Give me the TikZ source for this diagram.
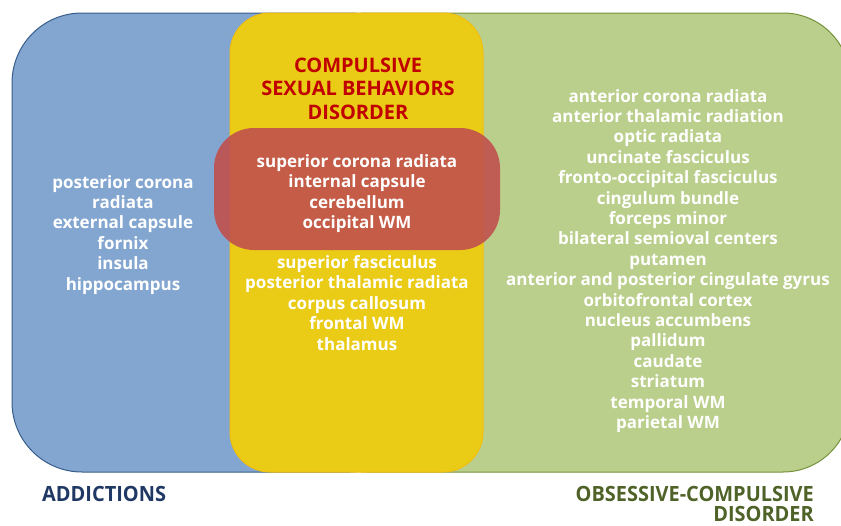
\documentclass[tikz,border=0pt]{standalone}
\usepackage{fontspec}
\setmainfont{Open Sans}
\definecolor{addfill}{RGB}{131,166,208}
\definecolor{adddraw}{RGB}{56,93,138}
\definecolor{ocdfill}{RGB}{187,207,140}
\definecolor{ocddraw}{RGB}{118,146,60}
\definecolor{csbfill}{RGB}{234,204,22}
\definecolor{csbdraw}{RGB}{242,190,12}
\definecolor{corefill}{RGB}{192,80,77}
\definecolor{titlered}{RGB}{192,0,0}
\definecolor{addtext}{RGB}{31,56,100}
\definecolor{ocdtext}{RGB}{79,98,40}

\begin{document}
\begin{tikzpicture}[x=1pt,y=-1pt,
	region/.style={line width=1pt},
	item/.style={text=white,inner sep=0pt,anchor=base,font=\fontsize{17}{20}\selectfont\bfseries},
	title/.style={text=titlered,inner sep=0pt,anchor=base,font=\fontsize{20}{24}\selectfont\bfseries},
	label/.style={inner sep=0pt,xscale=0.95,transform shape,font=\fontsize{21}{24}\selectfont\bfseries}]
	\useasboundingbox (0,0) rectangle (841,525);
	\draw[region,fill=addfill,draw=adddraw,rounded corners=70] (12,13) rectangle (420,472);
	\draw[region,fill=ocdfill,draw=ocddraw,rounded corners=67] (300,13) rectangle (850,472);
	\draw[region,fill=csbfill,draw=csbdraw,rounded corners=40] (230,13) rectangle (483,472);
	\fill[corefill,opacity=0.9,rounded corners=40] (214,128) rectangle (500,250);
	\foreach \txt [count=\i] in {posterior corona, radiata, external capsule, fornix, insula, hippocampus} {
		\node[item] (add\i) at (123,167.6+20.4*\i) {\txt};
	}
	\foreach \txt [count=\i] in {COMPULSIVE, SEXUAL BEHAVIORS, DISORDER} {
		\node[title] (csb\i) at (358,48.5+23.5*\i) {\txt};
	}
	\foreach \txt [count=\i] in {superior corona radiata, internal capsule, cerebellum, occipital WM} {
		\node[item] (core\i) at (357,146.5+20.5*\i) {\txt};
	}
	\foreach \txt [count=\i] in {superior fasciculus, posterior thalamic radiata, corpus callosum, frontal WM, thalamus} {
		\node[item] (sex\i) at (357,247.5+20.5*\i) {\txt};
	}
	\foreach \txt [count=\i] in {anterior corona radiata, anterior thalamic radiation, optic radiata, uncinate fasciculus, fronto-occipital fasciculus, cingulum bundle, forceps minor, bilateral semioval centers, putamen, anterior and posterior cingulate gyrus, orbitofrontal cortex, nucleus accumbens, pallidum, caudate, striatum, temporal WM, parietal WM} {
		\node[item] (ocd\i) at (668,81.6+20.4*\i) {\txt};
	}
	\node[label,text=addtext,anchor=base west] (addictions) at (42,501) {ADDICTIONS};
	\node[label,text=ocdtext,anchor=base east] (ocd) at (814,501) {OBSESSIVE-COMPULSIVE};
	\node[label,text=ocdtext,anchor=base east] (disorder) at (814,521.5) {DISORDER};
\end{tikzpicture}
\end{document}
